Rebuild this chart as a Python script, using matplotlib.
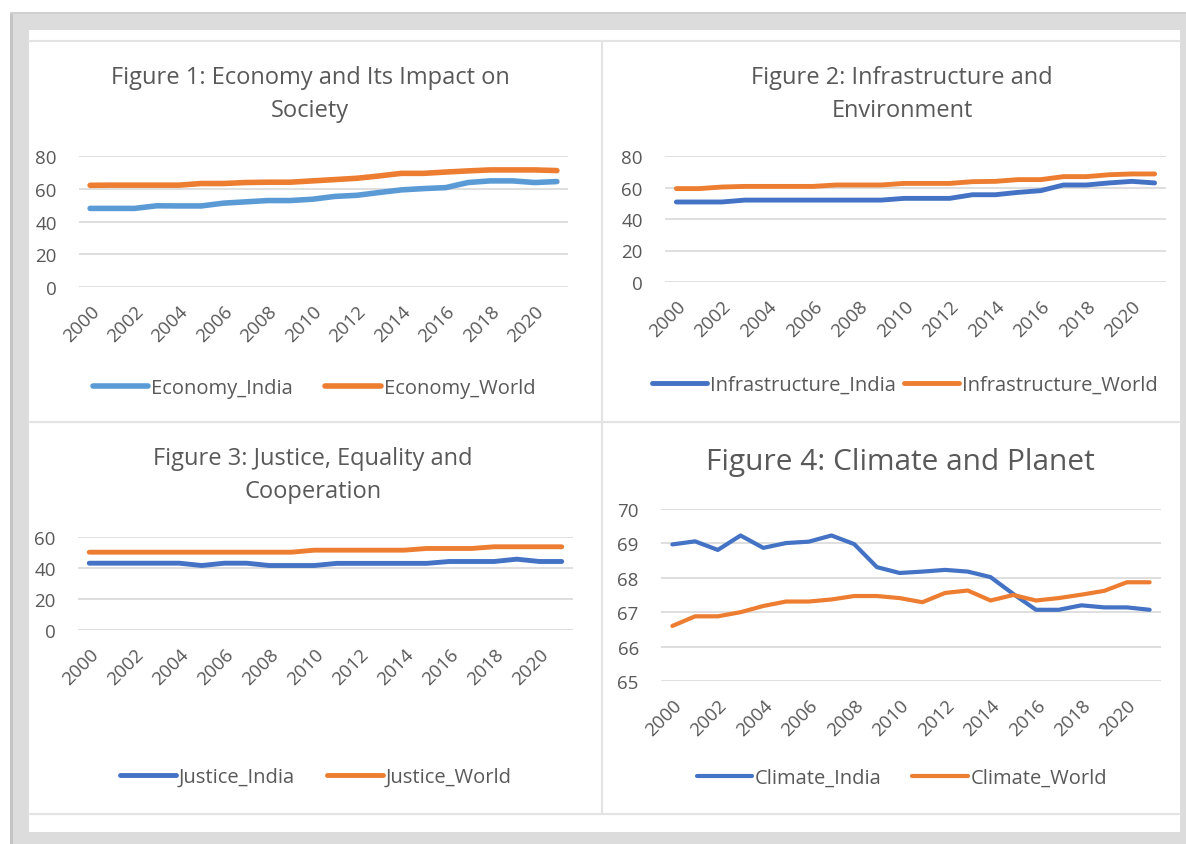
import matplotlib
matplotlib.use("Agg")
import matplotlib.pyplot as plt
from matplotlib.patches import Rectangle
from matplotlib.lines import Line2D

W, H = 1186, 845
plt.rcParams['font.family'] = ['Open Sans', 'DejaVu Sans']

years = list(range(2000, 2022))
tick_years = list(range(2000, 2021, 2))

economy_india = [48.0, 48.0, 48.0, 49.6, 49.5, 49.5, 51.2, 52.0, 52.8, 52.8, 53.6,
                 55.3, 56.0, 57.7, 59.3, 60.1, 60.7, 63.8, 64.8, 64.8, 63.8, 64.4]
economy_world = [62.1, 62.2, 62.2, 62.2, 62.2, 63.2, 63.2, 63.8, 64.0, 64.0, 64.8,
                 65.6, 66.4, 67.8, 69.4, 69.4, 70.2, 70.9, 71.5, 71.5, 71.5, 71.1]

infra_india = [50.8, 50.8, 50.8, 52.0, 52.0, 52.0, 52.0, 52.0, 52.0, 52.0, 53.1,
               53.1, 53.1, 55.4, 55.4, 56.9, 58.0, 61.6, 61.6, 62.9, 63.9, 62.9]
infra_world = [59.3, 59.3, 60.3, 60.7, 60.7, 60.7, 60.7, 61.6, 61.6, 61.6, 62.6,
               62.6, 62.6, 63.7, 63.9, 65.0, 65.0, 66.9, 66.9, 68.1, 68.6, 68.6]

justice_india = [43.1, 43.1, 43.1, 43.1, 43.1, 41.6, 43.1, 43.1, 41.6, 41.6, 41.6,
                 43.0, 43.0, 43.0, 43.0, 43.0, 44.2, 44.2, 44.2, 45.7, 44.2, 44.2]
justice_world = [50.2, 50.2, 50.2, 50.2, 50.2, 50.2, 50.2, 50.2, 50.2, 50.2, 51.5,
                 51.5, 51.5, 51.5, 51.5, 52.6, 52.6, 52.6, 53.7, 53.7, 53.7, 53.7]

climate_india = [68.97, 69.06, 68.81, 69.23, 68.87, 69.01, 69.05, 69.23, 68.98, 68.31, 68.14,
                 68.18, 68.23, 68.18, 68.02, 67.53, 67.07, 67.07, 67.20, 67.14, 67.14, 67.07]
climate_world = [66.60, 66.88, 66.88, 67.00, 67.18, 67.31, 67.31, 67.37, 67.47, 67.47, 67.41,
                 67.29, 67.56, 67.63, 67.34, 67.50, 67.34, 67.41, 67.51, 67.62, 67.87, 67.87]

TXT = '#595959'
GRID = '#d9d9d9'
ORANGE = '#ed7d31'


def box(x0, y0, x1, y1):
    return [x0 / W, 1 - y1 / H, (x1 - x0) / W, (y1 - y0) / H]


fig = plt.figure(figsize=(W / 100, H / 100), dpi=100, facecolor='white')

# screenshot frame
bg = fig.add_axes([0, 0, 1, 1])
bg.set_xlim(0, W)
bg.set_ylim(H, 0)
bg.axis('off')
bg.add_patch(Rectangle((10, 13), W - 10, H - 13, color='#dcdcdc', lw=0))
bg.add_patch(Rectangle((10, 13), 3, H - 13, color='#c4c4c4', lw=0))
bg.add_patch(Rectangle((10, 13), W - 10, 2, color='#cfcfcf', lw=0))
bg.add_patch(Rectangle((29, 31), 1151, 802, color='white', lw=0))
for y in (42, 423, 815):
    bg.add_line(Line2D([29, 1180], [y, y], color='#e3e3e3', lw=1.5))
bg.add_line(Line2D([602, 602], [42, 815], color='#e3e3e3', lw=1.5))

panels = [
    dict(rect=(79, 157, 568, 288), ylim=(0, 80), yt=range(0, 81, 20),
         series=[(economy_india, 'Economy_India', '#5b9bd5'), (economy_world, 'Economy_World', ORANGE)],
         title=['Figure 1: Economy and Its Impact on', 'Society'], tx=310, ty=[78, 111], tsize=17,
         leg=(314, 389), colsp=1.6, lw=4.0),
    dict(rect=(665, 157, 1166, 283), ylim=(0, 80), yt=range(0, 81, 20),
         series=[(infra_india, 'Infrastructure_India', '#4472c4'), (infra_world, 'Infrastructure_World', ORANGE)],
         title=['Figure 2: Infrastructure and', 'Environment'], tx=902, ty=[78, 111], tsize=17,
         leg=(905, 386), colsp=0.4, lw=3.5),
    dict(rect=(78, 538, 573, 631), ylim=(0, 60), yt=range(0, 61, 20),
         series=[(justice_india, 'Justice_India', '#4472c4'), (justice_world, 'Justice_World', ORANGE)],
         title=['Figure 3: Justice, Equality and', 'Cooperation'], tx=313, ty=[459, 492], tsize=17,
         leg=(316, 778), colsp=1.6, lw=3.5),
    dict(rect=(661, 510, 1161, 682), ylim=(65, 70), yt=range(65, 71),
         series=[(climate_india, 'Climate_India', '#4472c4'), (climate_world, 'Climate_World', ORANGE)],
         title=['Figure 4: Climate and Planet'], tx=900, ty=[463], tsize=21.5,
         leg=(902, 779), colsp=1.5, lw=3.0),
]

xs = list(range(len(years)))
for p in panels:
    ax = fig.add_axes(box(*p['rect']))
    for vals, name, col in p['series']:
        ax.plot(xs, vals, color=col, lw=p['lw'], label=name, solid_capstyle='round')
    ax.set_xlim(-0.5, len(years) - 0.5)
    ax.set_ylim(*p['ylim'])
    ax.set_yticks(list(p['yt']))
    ax.set_xticks([y - 2000 for y in tick_years])
    ax.set_xticklabels([str(y) for y in tick_years], rotation=45, ha='right', va='top',
                       rotation_mode='anchor')
    ax.tick_params(axis='both', length=0, colors=TXT, labelsize=13.5)
    ax.tick_params(axis='y', pad=16)
    ax.tick_params(axis='x', pad=11)
    ax.grid(axis='y', color=GRID, lw=1.2)
    ax.set_axisbelow(True)
    for s in ax.spines.values():
        s.set_visible(False)
    ax.set_facecolor('none')
    for i, line in enumerate(p['title']):
        fig.text(p['tx'] / W, 1 - p['ty'][i] / H, line, ha='center', va='center',
                 fontsize=p['tsize'], color=TXT)
    ax.legend(loc='center', bbox_to_anchor=(p['leg'][0] / W, 1 - p['leg'][1] / H),
              bbox_transform=fig.transFigure, ncol=2, frameon=False, fontsize=14.5,
              labelcolor=TXT, handlelength=2.75, handletextpad=0.15, columnspacing=p['colsp'],
              borderpad=0)

fig.savefig('out.png', dpi=100, facecolor='white')
